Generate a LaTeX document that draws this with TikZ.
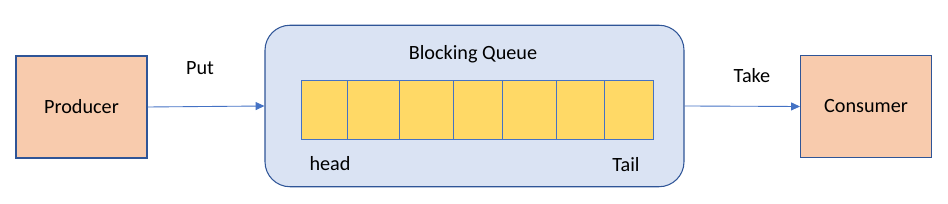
\documentclass[tikz,border=0pt]{standalone}
\usepackage{fontspec}
\setmainfont{Carlito}
\usetikzlibrary{arrows.meta}
\definecolor{roleorange}{HTML}{F8CBAD}
\definecolor{queueblue}{HTML}{DAE3F3}
\definecolor{cellyellow}{HTML}{FFD966}
\definecolor{edgeblue}{HTML}{2F5597}
\definecolor{arrowblue}{HTML}{4472C4}
\tikzset{
  rolebox/.style={draw=edgeblue, fill=roleorange, line width=0.6pt,
    minimum width=2.62cm, minimum height=2.04cm, inner sep=0pt},
  queuebox/.style={draw=edgeblue, fill=queueblue, line width=0.6pt,
    rounded corners=0.5cm, minimum width=8.38cm, minimum height=3.23cm, inner sep=0pt},
  slot/.style={draw=arrowblue, fill=cellyellow, line width=0.5pt,
    minimum height=1.19cm, inner sep=0pt},
  flow/.style={draw=arrowblue, line width=0.5pt, -{Triangle[length=5pt,width=4.5pt]}},
  txt/.style={font=\fontsize{11.5}{14}\selectfont, inner sep=0pt}
}

\begin{document}
\begin{tikzpicture}
  \useasboundingbox (0,0) rectangle (18.96,4.08);

  % producer / consumer
  \node[rolebox, txt] (producer) at (1.63,1.94) {Producer};
  \node[rolebox, txt] (consumer) at (17.32,1.95) {Consumer};

  % the queue and its slots
  \node[queuebox] (queue) at (9.49,1.96) {};
  \foreach \l/\r [count=\i] in {6.02/6.94, 6.94/7.98, 7.98/9.06, 9.06/10.04,
                                10.04/11.12, 11.12/12.08, 12.08/13.06}
    \node[slot, minimum width={(\r-\l)*1cm}] (cell\i) at ({(\l+\r)/2},1.88) {};

  \node[txt] (title) at (9.46,3.0) {Blocking Queue};
  \node[txt] (head) at (6.6,0.8) {head};
  \node[txt] (tail) at (12.52,0.79) {Tail};

  % put / take
  \draw[flow] (producer.east) -- (queue.west);
  \draw[flow] (queue.east) -- (consumer.west);
  \node[txt] (put) at (4.0,2.72) {Put};
  \node[txt] (take) at (15.04,2.56) {Take};
\end{tikzpicture}
\end{document}
